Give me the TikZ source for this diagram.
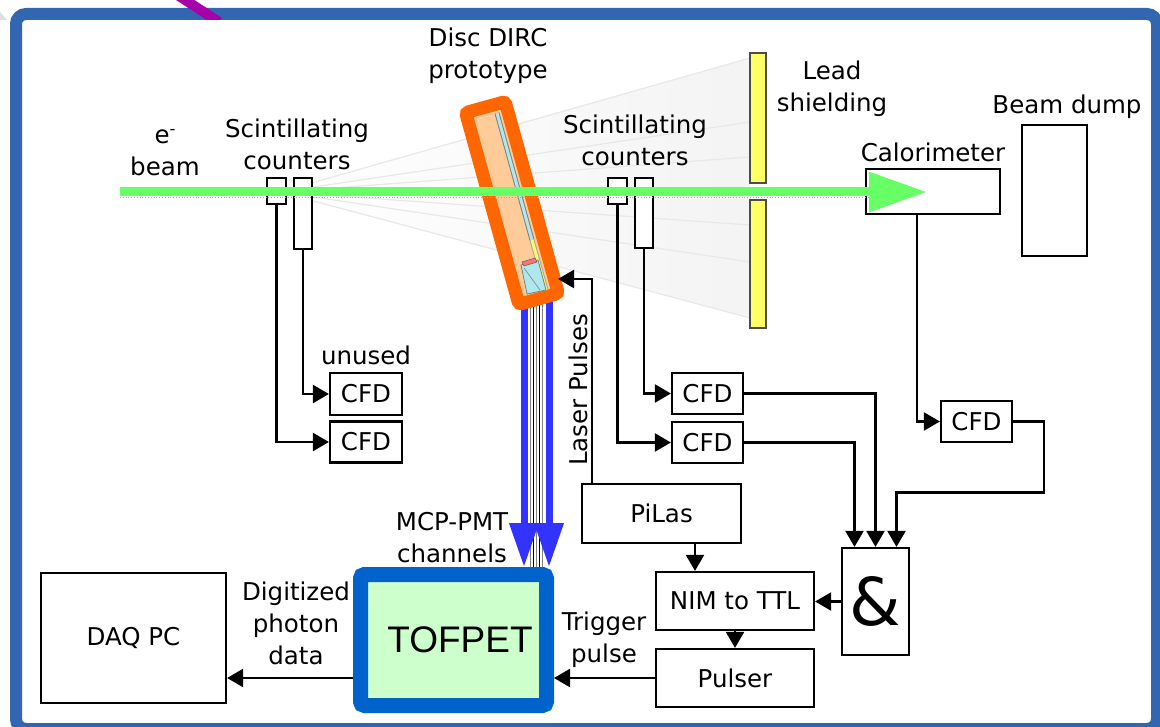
\documentclass[tikz,border=0pt]{standalone}
\usepackage{fontspec}
\setmainfont{DejaVu Sans}
\newfontfamily\tofpetfont{Liberation Sans}
\usetikzlibrary{arrows.meta,calc}

\definecolor{framebl}{HTML}{3366B0}
\definecolor{tofblue}{HTML}{0063CC}
\definecolor{tofgreen}{HTML}{CCFFCC}
\definecolor{fiberblue}{HTML}{3333FF}
\definecolor{dircorange}{HTML}{FF6600}
\definecolor{dircpeach}{HTML}{FFCC99}
\definecolor{leadyellow}{HTML}{FFFF66}
\definecolor{beamgreen}{HTML}{66FF66}
\definecolor{quartz}{HTML}{AEE8EE}
\definecolor{slidemagenta}{HTML}{A800A8}

\begin{document}
\begin{tikzpicture}[x=1pt,y=-1pt,
  lbl/.style={font=\fontsize{24.5}{32}\selectfont, align=center, inner sep=0pt},
  blk/.style={draw, line width=2.2pt, fill=white, inner sep=0pt,
              font=\fontsize{24.5}{30}\selectfont},
  counter/.style={draw, line width=2pt, fill=white, inner sep=0pt},
  leadbar/.style={draw=gray!60!black, line width=1.2pt, fill=leadyellow, inner sep=0pt,
                  minimum width=16pt},
  conn/.style={line width=2.2pt, -{Triangle[length=16pt,width=18pt]}},
  ray/.style={gray!18, line width=1.2pt},
  fiber/.style={fiberblue, line width=7pt, -{Triangle[length=44pt,width=28pt]}},
]
\useasboundingbox (0,0) rectangle (1160,727);

% slide frame and the bits of slide showing around it
\fill[gray!25] (0,12) -- (7,20) -- (0,20) -- cycle;
\draw[framebl, line width=12pt, rounded corners=10pt, fill=white] (16,14) rectangle (1157,729);
\begin{scope}
  \clip (0,-10) rectangle (1160,20);
  \draw[slidemagenta, line width=10pt] (176,-6) -- (219,22);
\end{scope}

% shower cone towards the lead shielding
\coordinate (apex) at (280,192);
\shade[left color=white, right color=gray!9] (apex) -- (750,58) -- (750,318) -- cycle;
\foreach \yy in {58,122,157,225,262,318}
  \draw[ray] (apex) -- (750,\yy);

% lead shielding
\node[leadbar, minimum height=130pt] (lead1) at (758,118) {};
\node[leadbar, minimum height=128pt] (lead2) at (758,264) {};

% scintillating counters
\node[counter, minimum width=19pt, minimum height=26pt] (sc1) at (276.5,191) {};
\node[counter, minimum width=18pt, minimum height=71pt] (sc2) at (303,213.5) {};
\node[counter, minimum width=19pt, minimum height=26pt] (sc3) at (617.5,191) {};
\node[counter, minimum width=18pt, minimum height=70pt] (sc4) at (644,213) {};

% calorimeter and beam dump
\node[blk, minimum width=134pt, minimum height=45pt] (cal) at (933,191.5) {};
\node[blk, minimum width=65pt, minimum height=131pt] (dump) at (1054.5,190.5) {};

% electronics
\node[blk, minimum width=72pt, minimum height=42pt] (cfd1) at (366,394) {CFD};
\node[blk, minimum width=72pt, minimum height=41pt] (cfd2) at (366,442) {CFD};
\node[blk, minimum width=71pt, minimum height=41pt] (cfda) at (707.5,393.5) {CFD};
\node[blk, minimum width=71pt, minimum height=41pt] (cfdb) at (707.5,442.5) {CFD};
\node[blk, minimum width=71pt, minimum height=41pt] (cfdc) at (976.5,421.5) {CFD};
\node[blk, minimum width=67pt, minimum height=107pt, font=\fontsize{66}{66}\selectfont] (andg) at (875.5,601.5) {\&};
\node[blk, minimum width=158pt, minimum height=58pt] (nim) at (735,601) {NIM to TTL};
\node[blk, minimum width=158pt, minimum height=58pt] (pulser) at (735,678) {Pulser};
\node[blk, minimum width=159pt, minimum height=59pt] (pilas) at (661.5,513.5) {PiLas};
\node[blk, minimum width=185pt, minimum height=130pt] (daq) at (133.5,638) {DAQ PC};

% fibre bundle from the prototype to the readout
\coordinate (fib) at (536,300);
\foreach \dx/\shade in {-6/gray, -3/black, 0/gray, 3/black, 6/gray}
  \draw[\shade, line width=0.9pt] ([xshift=\dx pt]fib) -- ([xshift=\dx pt]fib |- 0,567);

% TOFPET readout board
\node[draw=tofblue, line width=15pt, fill=tofgreen, rounded corners=4pt,
      minimum width=186pt, minimum height=131pt, outer sep=7.5pt, inner sep=0pt,
      font=\tofpetfont\fontsize{37}{40}\selectfont] (tofpet) at (453.5,640) {\hspace{13pt}TOFPET};

\draw[fiber] ([xshift=-12pt]fib) -- ([xshift=-12pt]fib |- tofpet.north);
\draw[fiber] ([xshift=13pt]fib) -- ([xshift=13pt]fib |- tofpet.north);

% Disc DIRC prototype
\node[draw=dircorange, fill=dircpeach, line width=13pt, rounded corners=3pt,
      minimum width=41pt, minimum height=199pt, inner sep=0pt, rotate=15.5] (dirc) at (512,203) {};
\draw[gray, line width=5pt] (497,113) -- (532,240);
\draw[quartz, line width=3pt] (497,113) -- (532,240);
\draw[gray!70, line width=5pt] (532,240) -- (546,290);
\draw[yellow!60, line width=3pt] (532,240) -- (546,290);
\draw[gray, line width=0.8pt, fill=quartz] (521,265) -- (538,260) -- (546,290) -- (527,294) -- cycle;
\draw[gray, line width=0.6pt] (524,268) -- (540,290);
\draw[gray!80!black, line width=0.6pt, fill=red!55] (522,262) -- (535,258) -- (537,262) -- (524,266) -- cycle;
\coordinate (dircport) at (558,279);

% electron beam
\coordinate (beamsrc) at (120,192);
\coordinate (beamend) at (927,192);
\draw[gray!70, dotted, line width=0.8pt] ([yshift=-5pt]beamsrc) -- ([xshift=-59pt,yshift=-5pt]beamend);
\draw[beamgreen, line width=9pt, -{Triangle[length=58pt,width=38pt]}] (beamsrc) -- (beamend);

% signal connections
\draw[conn] (sc1.south) |- (cfd2.west);
\draw[conn] (sc2.south) |- (cfd1.west);
\draw[conn] (sc3.south) |- (cfdb.west);
\draw[conn] (sc4.south) |- (cfda.west);
\draw[conn] ([xshift=-16pt]cal.south) |- (cfdc.west);
\draw[conn] (cfda.east) -| (andg.north);
\draw[conn] (cfdb.east) -| ([xshift=-21pt]andg.north);
\draw[conn] (cfdc.east) -| ++(31,71) -| ([xshift=21pt]andg.north);
\draw[conn] (andg.west) -- (andg.west -| nim.east);
\draw[conn] ([xshift=33.5pt]pilas.south) -- ([xshift=33.5pt]pilas.south |- nim.north);
\draw[conn] (nim.south) -- (pulser.north);
\draw[conn] (pulser.west) -- (pulser.west -| tofpet.east);
\draw[conn] (pulser.west -| tofpet.west) -- (pulser.west -| daq.east);
\draw[conn] ([xshift=-69.5pt]pilas.north) |- (dircport);

% labels
\node[lbl] (tdirc) at (488,56) {Disc DIRC\\prototype};
\node[lbl] (tsc1) at (297,144) {Scintillating\\counters};
\node[lbl] (tsc2) at (635,140) {Scintillating\\counters};
\node[lbl] (tbeam) at (165,153) {e\raisebox{9pt}{\fontsize{16}{16}\selectfont -}\\beam};
\node[lbl] (tlead) at (832,89) {Lead\\shielding};
\node[lbl] (tdump) at (1067,107) {Beam dump};
\node[lbl] (tcal) at (933,152) {Calorimeter};
\node[lbl] (tunused) at (366,355) {unused};
\node[lbl] (tmcp) at (452,538) {MCP-PMT\\channels};
\node[lbl] (tdig) at (296,623) {Digitized\\photon\\data};
\node[lbl] (ttrig) at (604,640) {Trigger\\pulse};
\node[lbl, rotate=90] (tlaser) at (578,390) {Laser Pulses};
\end{tikzpicture}
\end{document}
